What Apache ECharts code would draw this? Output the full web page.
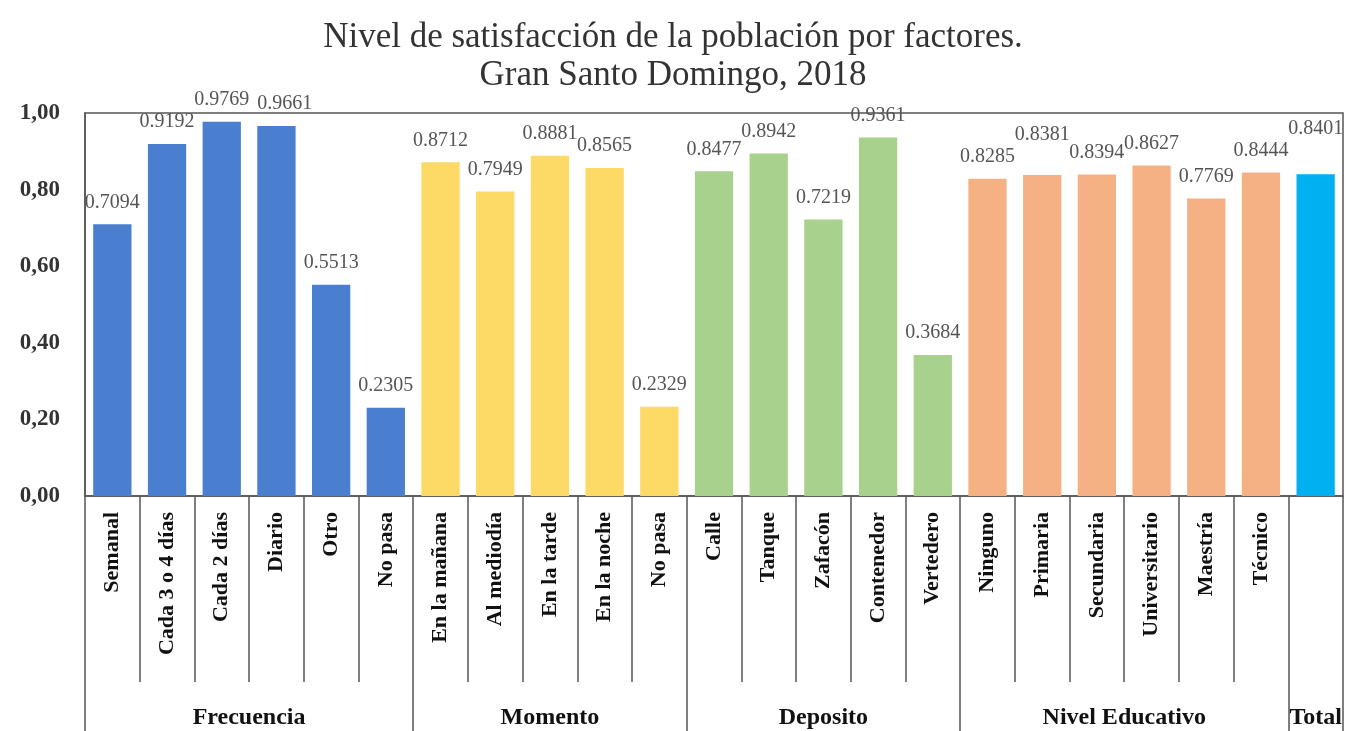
<!DOCTYPE html>
<html>
<head>
<meta charset="utf-8">
<title>Nivel de satisfacción</title>
<script src="https://cdn.jsdelivr.net/npm/echarts@6/dist/echarts.min.js"></script>
<style>
  html, body { margin: 0; padding: 0; background: #fff; }
  #main { width: 1346px; height: 731px; }
</style>
</head>
<body>
<div id="main"></div>
<script>
// categorias (eje x) y sus valores
const categories = [
  'Semanal', 'Cada 3 o 4 días', 'Cada 2 días', 'Diario', 'Otro', 'No pasa',
  'En la mañana', 'Al mediodía', 'En la tarde', 'En la noche', 'No pasa',
  'Calle', 'Tanque', 'Zafacón', 'Contenedor', 'Vertedero',
  'Ninguno', 'Primaria', 'Secundaria', 'Universitario', 'Maestría', 'Técnico',
  ''
]
const values = [
  0.7094, 0.9192, 0.9769, 0.9661, 0.5513, 0.2305,
  0.8712, 0.7949, 0.8881, 0.8565, 0.2329,
  0.8477, 0.8942, 0.7219, 0.9361, 0.3684,
  0.8285, 0.8381, 0.8394, 0.8627, 0.7769, 0.8444,
  0.8401
]
const groupNames = ['Frecuencia', 'Momento', 'Deposito', 'Nivel Educativo', 'Total']
const groupSizes = [6, 5, 5, 6, 1]
const groupColors = ['#4A7FCF', '#FDD966', '#A9D18E', '#F5B183', '#00B0F0']
const yTicks = [0, 0.2, 0.4, 0.6, 0.8, 1.0]

// limites y centros de cada grupo (en unidades de categoria)
const bounds = [0]
groupSizes.forEach(n => bounds.push(bounds[bounds.length - 1] + n))
const centers = groupSizes.map((n, i) => bounds[i] + n / 2)

const colorOf = idx => {
  for (let g = 0; g < groupSizes.length; g++) {
    if (idx < bounds[g + 1]) return groupColors[g]
  }
  return groupColors[groupColors.length - 1]
}

const GRID_TOP = 113
const serif = '"Liberation Serif", "Times New Roman", serif'
const titleStyle = {
  fontFamily: serif,
  fontWeight: 'normal',
  fontSize: 35,
  color: '#333'
}

// etiquetas escalonadas cuando quedan pegadas a la anterior (como en el original)
const natural = []
const moved = []
const staggerLabels = params => {
  const i = params.dataIndex
  const r = params.labelRect
  natural[i] = r
  moved[i] = false
  const prev = natural[i - 1]
  let dx = 0, dy = 0
  if (prev && !moved[i - 1] && prev.x + prev.width + 4 > r.x &&
      Math.abs(prev.y - r.y) < 8) {
    const lift = r.y + r.height - prev.y + 2
    if (r.y - lift < GRID_TOP - 20) {
      dx = prev.x + prev.width - r.x + 8
    } else {
      dy = -lift
    }
    moved[i] = true
  }
  return { dx: dx, dy: dy }
}

const myChart = echarts.init(document.getElementById('main'))

const option = {
  animation: false,
  title: [
    { text: 'Nivel de satisfacción de la población por factores.', left: 'center', top: 15, textStyle: titleStyle },
    { text: 'Gran Santo Domingo, 2018', left: 'center', top: 53, textStyle: titleStyle }
  ],
  grid: {
    left: 85,
    right: 3,
    top: GRID_TOP,
    bottom: 235,
    show: true,
    borderColor: '#555',
    borderWidth: 1.5
  },
  xAxis: [
    {
      type: 'category',
      data: categories,
      position: 'bottom',
      axisLine: { lineStyle: { color: '#555', width: 1.5 } },
      axisTick: {
        show: true,
        interval: 0,
        length: 186,
        lineStyle: { color: '#555', width: 1.5 }
      },
      axisLabel: {
        interval: 0,
        rotate: 90,
        margin: 16,
        fontFamily: serif,
        fontWeight: 'bold',
        fontSize: 22,
        color: '#111'
      }
    },
    {
      type: 'value',
      position: 'bottom',
      min: 0,
      max: categories.length,
      axisLine: { show: false },
      splitLine: { show: false },
      axisTick: {
        show: true,
        length: 240,
        customValues: bounds,
        lineStyle: { color: '#555', width: 1.5 }
      },
      axisLabel: {
        customValues: centers,
        margin: 210,
        fontFamily: serif,
        fontWeight: 'bold',
        fontSize: 24,
        color: '#111',
        formatter: v => {
          const i = centers.findIndex(c => Math.abs(c - v) < 1e-6)
          return i >= 0 ? groupNames[i] : ''
        }
      }
    }
  ],
  yAxis: {
    type: 'value',
    min: 0,
    max: 1,
    interval: 0.2,
    axisLine: { show: true, lineStyle: { color: '#555', width: 1.5 } },
    axisTick: { show: false },
    splitLine: { show: false },
    axisLabel: {
      margin: 25,
      fontFamily: serif,
      fontWeight: 'bold',
      fontSize: 23,
      color: '#333',
      customValues: yTicks,
      formatter: v => v.toFixed(2).replace('.', ',')
    }
  },
  series: [{
    type: 'bar',
    xAxisIndex: 0,
    barCategoryGap: '30%',
    data: values.map((v, i) => ({ value: v, itemStyle: { color: colorOf(i) } })),
    label: {
      show: true,
      position: 'top',
      distance: 12,
      fontFamily: serif,
      fontSize: 20,
      color: '#555',
      formatter: p => p.value.toFixed(4)
    },
    labelLayout: staggerLabels
  }]
}

myChart.setOption(option)
</script>
</body>
</html>
